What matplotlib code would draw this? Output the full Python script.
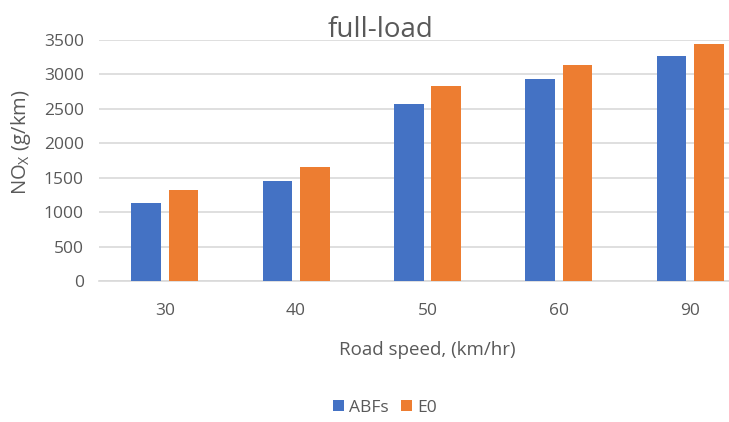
import numpy as np
import matplotlib.pyplot as plt

plt.rcParams['font.family'] = ['Open Sans', 'DejaVu Sans']

speeds = ['30', '40', '50', '60', '90']
abfs = [1130, 1450, 2570, 2940, 3270]
e0 = [1320, 1655, 2830, 3135, 3435]

blue = '#4472c4'
orange = '#ed7d31'
grey = '#595959'

fig = plt.figure(figsize=(7.29, 4.22), dpi=100)
# plot area runs past the right edge, as in the source image
ax = fig.add_axes([99 / 729, 1 - 281 / 422, 657 / 729, 241 / 422])

x = np.arange(len(speeds))
w = 0.225
ax.bar(x - 0.142, abfs, w, color=blue, label='ABFs', zorder=3)
ax.bar(x + 0.142, e0, w, color=orange, label='E0', zorder=3)

ax.set_xlim(-0.5, len(speeds) - 0.5)
ax.set_ylim(0, 3500)
ax.set_yticks(range(0, 3501, 500))
ax.set_xticks(x)
ax.set_xticklabels(speeds)
ax.grid(axis='y', color='#d9d9d9', linewidth=1.2, zorder=0)
for s in ['top', 'right', 'left']:
    ax.spines[s].set_visible(False)
ax.spines['bottom'].set_color('#d9d9d9')
ax.spines['bottom'].set_linewidth(1.2)
ax.tick_params(length=0, colors=grey, labelsize=12.5)
ax.tick_params(axis='y', pad=11)
ax.tick_params(axis='x', pad=16)

ax.set_xlabel('Road speed, (km/hr)', color=grey, fontsize=13.5, labelpad=16)
fig.text(21 / 729, 1 - 142 / 422, r'NO$_\mathregular{X}$ (g/km)', rotation=90,
         ha='center', va='center', color=grey, fontsize=14.5)

fig.text(380 / 729, 1 - 30 / 422, 'full-load', ha='center', va='center', color=grey, fontsize=20)

fig.legend(loc='center', bbox_to_anchor=(385 / 729, 1 - 408 / 422), ncol=2, frameon=False,
           fontsize=12.5, labelcolor=grey, handlelength=0.6, handleheight=0.6,
           columnspacing=0.75, handletextpad=0.3)

fig.savefig('out.png', dpi=100)
